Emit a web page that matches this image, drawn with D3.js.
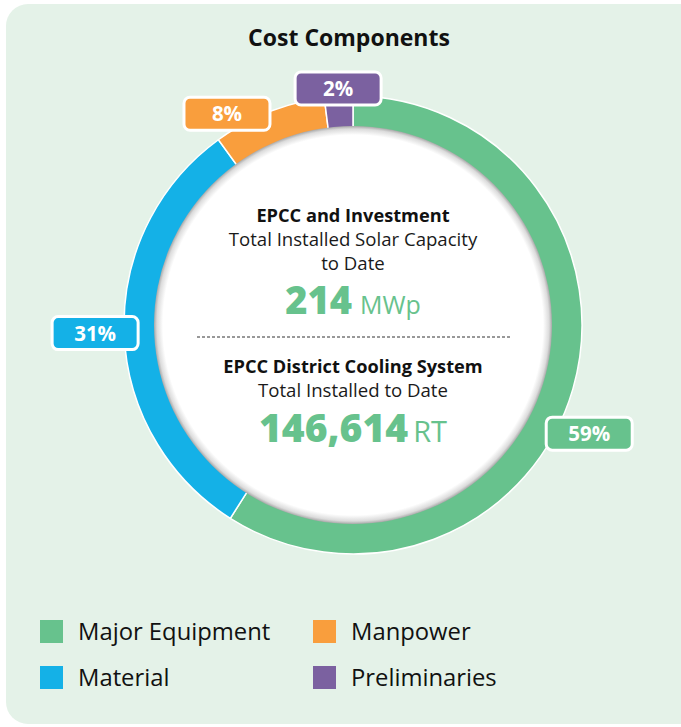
<!DOCTYPE html>
<html>
<head>
<meta charset="utf-8">
<script src="https://cdn.jsdelivr.net/npm/d3@7"></script>
<style>
  html, body { margin: 0; padding: 0; background: #ffffff; }
  svg { display: block; }
</style>
</head>
<body>
<svg id="chart" width="681" height="727"></svg>
<script>
// ---- data ----
const categories = ["Major Equipment", "Material", "Manpower", "Preliminaries"];
const values = [59, 31, 8, 2];
const colors = ["#67c28d", "#14b1e7", "#f99e3d", "#7b61a0"];
const legendOrder = ["Major Equipment", "Manpower", "Material", "Preliminaries"];
const title = "Cost Components";
const block1 = { heading: "EPCC and Investment", sub: ["Total Installed Solar Capacity", "to Date"], value: "214", unit: "MWp" };
const block2 = { heading: "EPCC District Cooling System", sub: ["Total Installed to Date"], value: "146,614", unit: "RT" };

// ---- layout ----
const W = 681, H = 727;
const cx = 353, cy = 325, outerR = 229, innerR = 199;
const labelPos = [{ f: 0.54, r: 260 }, { f: 0.5, r: 258 }, { f: 0.18, r: 246 }, { f: 0.5, r: 237 }];
const ff = "'Open Sans', Lato, sans-serif";

const svg = d3.select("#chart");
const defs = svg.append("defs");

svg.append("rect").attr("x", 6).attr("y", 4).attr("width", 720).attr("height", 720)
  .attr("rx", 22).attr("fill", "#e4f2e8");

svg.append("text").attr("x", 349).attr("y", 46).attr("text-anchor", "middle")
  .attr("font-family", ff).attr("font-weight", 700)
  .attr("font-size", 23).attr("fill", "#111").text(title);

const color = d3.scaleOrdinal().domain(categories).range(colors);
const data = categories.map((c, i) => ({ cat: c, value: values[i] }));
const pie = d3.pie().value(d => d.value).sort(null);
const arcs = pie(data);
const arc = d3.arc().innerRadius(innerR - 2).outerRadius(outerR);

const g = svg.append("g").attr("transform", `translate(${cx},${cy})`);
g.selectAll("path.slice").data(arcs).join("path").attr("class", "slice")
  .attr("d", arc).attr("fill", d => color(d.data.cat))
  .attr("stroke", "#ffffff").attr("stroke-width", 1.5);

const grad = defs.append("radialGradient").attr("id", "innerShade")
  .attr("cx", "50%").attr("cy", "50%").attr("r", "50%");
grad.append("stop").attr("offset", "0.955").attr("stop-color", "#ffffff");
grad.append("stop").attr("offset", "0.985").attr("stop-color", "#dcdcdc");
grad.append("stop").attr("offset", "1").attr("stop-color", "#a9a9a9");
g.append("circle").attr("r", innerR).attr("fill", "url(#innerShade)");

const bw = 86, bh = 33;
arcs.forEach((a, i) => {
  const lp = labelPos[i];
  const ang = a.startAngle + lp.f * (a.endAngle - a.startAngle);
  const la = d3.arc().innerRadius(lp.r).outerRadius(lp.r).startAngle(ang).endAngle(ang);
  const [x, y] = la.centroid();
  const lg = g.append("g").attr("transform", `translate(${x},${y})`);
  lg.append("rect").attr("x", -bw / 2).attr("y", -bh / 2).attr("width", bw).attr("height", bh)
    .attr("rx", 6).attr("fill", color(a.data.cat)).attr("stroke", "#ffffff").attr("stroke-width", 3);
  lg.append("text").attr("text-anchor", "middle").attr("y", 7.5)
    .attr("font-family", ff).attr("font-weight", 700)
    .attr("font-size", 20.5).attr("fill", "#ffffff").text(d3.format(".0%")(a.data.value / 100));
});

function centerText(y, txt, size, weight, fill) {
  return svg.append("text").attr("x", cx).attr("y", y).attr("text-anchor", "middle")
    .attr("font-family", ff).attr("font-size", size).attr("font-weight", weight)
    .attr("fill", fill).text(txt);
}
centerText(222, block1.heading, 18.2, 700, "#111");
block1.sub.forEach((s, i) => centerText(246 + i * 24, s, 18.6, 400, "#1a1a1a"));
let t = svg.append("text").attr("x", cx).attr("y", 314).attr("text-anchor", "middle").attr("font-family", ff).attr("fill", "#67c28d");
t.append("tspan").attr("font-size", 38).attr("font-weight", 800).text(block1.value);
t.append("tspan").attr("font-size", 25).attr("font-weight", 400).attr("dx", 8).text(block1.unit);

svg.append("line").attr("x1", 197).attr("x2", 510).attr("y1", 337).attr("y2", 337)
  .attr("stroke", "#333").attr("stroke-width", 1).attr("stroke-dasharray", "3,2");

centerText(373, block2.heading, 18.2, 700, "#111");
block2.sub.forEach((s, i) => centerText(397 + i * 24, s, 18.6, 400, "#1a1a1a"));
t = svg.append("text").attr("x", cx).attr("y", 442).attr("text-anchor", "middle").attr("font-family", ff).attr("fill", "#67c28d");
t.append("tspan").attr("font-size", 39).attr("font-weight", 800).text(block2.value);
t.append("tspan").attr("font-size", 29).attr("font-weight", 400).attr("dx", 5).text(block2.unit);

const legendX = [40, 313], legendY = [620, 666];
legendOrder.forEach((c, i) => {
  const x = legendX[i % 2], y = legendY[Math.floor(i / 2)];
  svg.append("rect").attr("x", x).attr("y", y).attr("width", 23).attr("height", 23).attr("fill", color(c));
  svg.append("text").attr("x", x + 38).attr("y", y + 20).attr("font-family", ff)
    .attr("font-size", 23.8).attr("fill", "#111").text(c);
});
</script>
</body>
</html>
